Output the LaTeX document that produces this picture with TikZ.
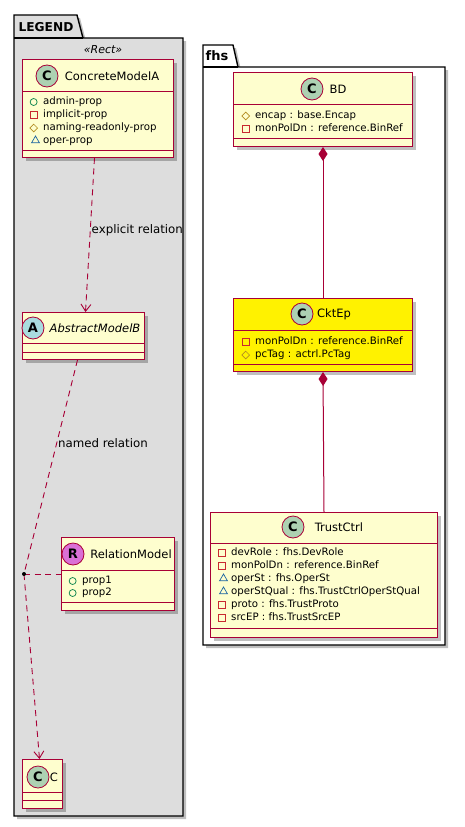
\documentclass[tikz,border=0pt]{standalone}
\usepackage{fontspec}
\setmainfont{DejaVu Sans}
\usetikzlibrary{arrows.meta, shadows, shapes.geometric}

\definecolor{umlborder}{HTML}{A80036}
\definecolor{umlfill}{HTML}{FEFECE}
\definecolor{legendgray}{HTML}{DDDDDD}
\definecolor{badgeC}{HTML}{ADD1B2}
\definecolor{badgeA}{HTML}{A9DCDF}
\definecolor{badgeR}{HTML}{DA70D6}
\definecolor{pubcol}{HTML}{038048}
\definecolor{privcol}{HTML}{C82930}
\definecolor{protcol}{HTML}{B38D22}
\definecolor{packcol}{HTML}{1963A0}

\tikzset{
  pkg/.style={draw=black, line width=1.4pt,
    drop shadow={shadow xshift=3pt, shadow yshift=-3pt, fill=black, opacity=0.25}},
  pkgname/.style={font=\bfseries\fontsize{12.2}{14}\selectfont, inner sep=0pt},
  stereo/.style={font=\itshape\fontsize{11}{13}\selectfont, inner sep=0pt},
  cls/.style={draw=umlborder, fill=umlfill, line width=1pt, anchor=north west, inner sep=0pt,
    drop shadow={shadow xshift=3pt, shadow yshift=-3pt, fill=black, opacity=0.25}},
  sep/.style={draw=umlborder, line width=1pt},
  badge/.style={circle, draw=umlborder, line width=0.8pt, minimum size=22pt, inner sep=0pt,
    font=\bfseries\fontsize{13}{13}\selectfont},
  clsname/.style={font=\fontsize{11.5}{13}\selectfont, inner sep=0pt},
  attr/.style={anchor=west, inner sep=0pt, text height=7.5pt, text depth=2pt,
    font=\fontsize{10.2}{12}\selectfont},
  pubicon/.style={circle, draw=pubcol, line width=0.7pt, minimum size=7pt, inner sep=0pt},
  privicon/.style={rectangle, draw=privcol, line width=0.7pt, minimum size=7pt, inner sep=0pt},
  proticon/.style={diamond, draw=protcol, line width=0.7pt, minimum size=8pt, inner sep=0pt},
  packicon/.style={regular polygon, regular polygon sides=3, draw=packcol, line width=0.7pt,
    minimum size=9pt, inner sep=0pt},
  vpub/.style={label={[pubicon, xshift=-5.5pt]left:{}}},
  vpriv/.style={label={[privicon, xshift=-5.5pt]left:{}}},
  vprot/.style={label={[proticon, xshift=-5pt]left:{}}},
  vpack/.style={label={[packicon, xshift=-4.5pt, yshift=0.5pt]left:{}}},
  rel/.style={draw=umlborder, line width=0.9pt, dash pattern=on 6pt off 4.5pt},
  depend/.style={rel, -{Straight Barb[length=7pt, width=10pt]}},
  comp/.style={draw=umlborder, line width=1pt, {Diamond[length=14pt, width=9pt]}-},
  rellabel/.style={font=\fontsize{11.8}{14}\selectfont, inner sep=1pt, anchor=west}
}

\begin{document}
\begin{tikzpicture}[x=1pt, y=-1pt]
  \useasboundingbox (0,0) rectangle (465,827);

  % LEGEND package (tab and body)
  \draw[pkg, fill=legendgray] (14,15) -- (77,15) -- (83,38) -- (183,38) -- (183,816) -- (14,816) -- cycle;
  \draw[line width=1.4pt] (14,38) -- (83,38);
  \node[pkgname] (legend) at (46,27) {LEGEND};
  \node[stereo] (rect) at (103,50) {«Rect»};

  % fhs package (tab and body)
  \draw[pkg, fill=white] (203,45) -- (233,45) -- (238,67) -- (445,67) -- (445,645) -- (203,645) -- cycle;
  \draw[line width=1.4pt] (203,67) -- (238,67);
  \node[pkgname, font=\bfseries\fontsize{13}{15}\selectfont] (fhs) at (217,56) {fhs};

  % ConcreteModelA class
  \node[cls, minimum width=151pt, minimum height=98pt] (cma) at (22,59) {};
  \draw[sep] (22,91) -- (173,91);
  \draw[sep] (22,150) -- (173,150);
  \node[badge, fill=badgeC] (cma-badge) at (47,76) {C};
  \node[clsname] (cma-name) at (112,76) {ConcreteModelA};
  \node[attr, vpub] (cma-a1) at (43,102) {admin-prop};
  \node[attr, vpriv] (cma-a2) at (43,115) {implicit-prop};
  \node[attr, vprot] (cma-a3) at (43,128) {naming-readonly-prop};
  \node[attr, vpack] (cma-a4) at (43,141) {oper-prop};

  % AbstractModelB class
  \node[cls, minimum width=122pt, minimum height=47pt] (amb) at (22,312) {};
  \draw[sep] (22,343) -- (144,343);
  \draw[sep] (22,352) -- (144,352);
  \node[badge, fill=badgeA] (amb-badge) at (33,328) {A};
  \node[clsname, font=\itshape\fontsize{11.5}{13}\selectfont] (amb-name) at (95,328) {AbstractModelB};

  % RelationModel class
  \node[cls, minimum width=113pt, minimum height=73pt] (rm) at (61,537) {};
  \draw[sep] (61,570) -- (174,570);
  \draw[sep] (61,602) -- (174,602);
  \node[badge, fill=badgeR] (rm-badge) at (73,554) {R};
  \node[clsname] (rm-name) at (131,554) {RelationModel};
  \node[attr, vpub] (rm-a1) at (82,581) {prop1};
  \node[attr, vpub] (rm-a2) at (82,593) {prop2};

  % C class
  \node[cls, minimum width=40pt, minimum height=49pt] (c) at (22,759) {};
  \draw[sep] (22,792) -- (62,792);
  \draw[sep] (22,800) -- (62,800);
  \node[badge, fill=badgeC] (c-badge) at (38,777) {C};
  \node[clsname] (c-name) at (54,777) {C};

  % BD class
  \node[cls, minimum width=179pt, minimum height=74pt] (bd) at (233,72) {};
  \draw[sep] (233,104) -- (412,104);
  \draw[sep] (233,138) -- (412,138);
  \node[badge, fill=badgeC] (bd-badge) at (312,89) {C};
  \node[clsname] (bd-name) at (338,89) {BD};
  \node[attr, vprot] (bd-a1) at (255,116) {encap : base.Encap};
  \node[attr, vpriv] (bd-a2) at (255,129) {monPolDn : reference.BinRef};

  % CktEp class (highlighted)
  \node[cls, fill=yellow, minimum width=179pt, minimum height=73pt] (cktep) at (233,298) {};
  \draw[sep] (233,330) -- (412,330);
  \draw[sep] (233,364) -- (412,364);
  \node[badge, fill=badgeC] (cktep-badge) at (302,314) {C};
  \node[clsname] (cktep-name) at (334,314) {CktEp};
  \node[attr, vpriv] (cktep-a1) at (255,342) {monPolDn : reference.BinRef};
  \node[attr, vprot] (cktep-a2) at (255,355) {pcTag : actrl.PcTag};

  % TrustCtrl class
  \node[cls, minimum width=227pt, minimum height=125pt] (tc) at (210,512) {};
  \draw[sep] (210,543) -- (437,543);
  \draw[sep] (210,628) -- (437,628);
  \node[badge, fill=badgeC] (tc-badge) at (293,527) {C};
  \node[clsname] (tc-name) at (339,527) {TrustCtrl};
  \node[attr, vpriv] (tc-a1) at (231,553) {devRole : fhs.DevRole};
  \node[attr, vpriv] (tc-a2) at (231,566) {monPolDn : reference.BinRef};
  \node[attr, vpack] (tc-a3) at (231,579) {operSt : fhs.OperSt};
  \node[attr, vpack] (tc-a4) at (231,592) {operStQual : fhs.TrustCtrlOperStQual};
  \node[attr, vpriv] (tc-a5) at (231,605) {proto : fhs.TrustProto};
  \node[attr, vpriv] (tc-a6) at (231,618) {srcEP : fhs.TrustSrcEP};

  % Legend relations
  \coordinate (dot) at (24,574);
  \draw[depend] ([xshift=-3.5pt]cma.south) -- node[rellabel, pos=0.47] {explicit relation} ([xshift=2pt]amb.north);
  \draw[rel] ([xshift=-6pt]amb.south) -- node[rellabel, pos=0.39] {named relation} (dot);
  \draw[depend] (dot) -- ([xshift=-3pt]c.north);
  \draw[rel] (dot) -- (rm.west);
  \fill (dot) circle (2pt);

  % Compositions in fhs
  \draw[comp] (bd.south) -- (cktep.north);
  \draw[comp] (cktep.south) -- (tc.north);

\end{tikzpicture}
\end{document}
